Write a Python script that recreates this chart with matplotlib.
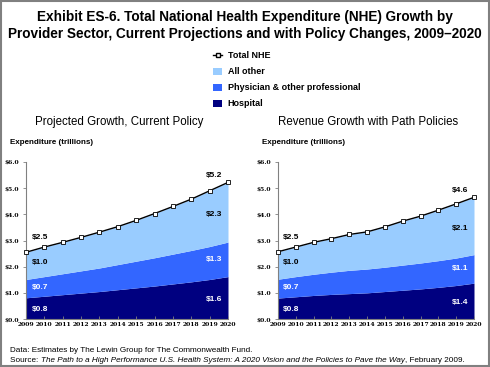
import matplotlib
matplotlib.use("Agg")
import matplotlib.pyplot as plt
from matplotlib.patches import Patch, Rectangle
from matplotlib.lines import Line2D
import numpy as np

plt.rcParams["font.family"] = ["Liberation Sans", "DejaVu Sans"]

years = list(range(2009, 2021))

# current policy
cur_total = [2.55, 2.75, 2.93, 3.12, 3.32, 3.53, 3.77, 4.03, 4.30, 4.58, 4.90, 5.22]
cur_hospital = [0.81, 0.87, 0.93, 0.99, 1.05, 1.12, 1.19, 1.26, 1.34, 1.42, 1.51, 1.62]
cur_physician = [0.70, 0.75, 0.80, 0.85, 0.90, 0.96, 1.02, 1.08, 1.14, 1.20, 1.26, 1.32]

# path policies
path_total = [2.57, 2.75, 2.93, 3.07, 3.23, 3.33, 3.52, 3.74, 3.93, 4.16, 4.40, 4.65]
path_hospital = [0.80, 0.85, 0.90, 0.94, 0.97, 1.00, 1.05, 1.10, 1.15, 1.21, 1.28, 1.37]
path_physician = [0.72, 0.77, 0.81, 0.85, 0.89, 0.91, 0.93, 0.96, 0.99, 1.02, 1.05, 1.09]

cur_labels = {"start": ["$2.5", "$1.0", "$0.7", "$0.8"], "end": ["$5.2", "$2.3", "$1.3", "$1.6"]}
path_labels = {"start": ["$2.5", "$1.0", "$0.7", "$0.8"], "end": ["$4.6", "$2.1", "$1.1", "$1.4"]}

C_HOSP = "#000080"
C_PHYS = "#3366FF"
C_OTHER = "#99CCFF"

fig = plt.figure(figsize=(4.9, 3.67), dpi=100)
W, H = 490, 367


def fx(px):
    return px / W


def fy(py):
    return 1 - py / H


fig.add_artist(Rectangle((0.002, 0.003), 0.996, 0.994, transform=fig.transFigure,
                         fill=False, edgecolor="#808080", linewidth=1.5))

fig.text(0.5, fy(17), "Exhibit ES-6. Total National Health Expenditure (NHE) Growth by",
         ha="center", va="center", fontsize=9.8, fontweight="bold")
fig.text(0.5, fy(34), "Provider Sector, Current Projections and with Policy Changes, 2009\u20132020",
         ha="center", va="center", fontsize=9.8, fontweight="bold")

handles = [
    Line2D([], [], color="black", lw=1, marker="s", markersize=3.5,
           markerfacecolor="white", markeredgecolor="black"),
    Patch(facecolor=C_OTHER),
    Patch(facecolor=C_PHYS),
    Patch(facecolor=C_HOSP),
]
names = ["Total NHE", "All other", "Physician & other professional", "Hospital"]
fig.legend(handles, names, loc="upper left", bbox_to_anchor=(fx(207), fy(45)),
           frameon=False, prop={"size": 6.5, "weight": "bold"}, handlelength=1.0,
           handleheight=0.9, handletextpad=0.6, labelspacing=0.78, borderpad=0.2)


def draw_panel(left_px, right_px, title, total, hospital, physician, labels):
    ax = fig.add_axes([fx(left_px), fy(319), fx(right_px - left_px), (319 - 162) / H])
    hosp = np.array(hospital)
    phys = np.array(physician)
    tot = np.array(total)
    ax.fill_between(years, 0, hosp, color=C_HOSP, lw=0)
    ax.fill_between(years, hosp, hosp + phys, color=C_PHYS, lw=0)
    ax.fill_between(years, hosp + phys, tot, color=C_OTHER, lw=0)
    ax.plot(years, tot, color="black", lw=1, marker="s", markersize=3.3,
            markerfacecolor="white", markeredgecolor="black", markeredgewidth=0.6,
            clip_on=False, zorder=5)
    ax.set_xlim(2009, 2020)
    ax.set_ylim(0, 6)
    ax.set_xticks(years)
    ax.set_xticklabels([str(y) for y in years], fontsize=4.3, fontweight="bold",
                       family="DejaVu Serif")
    ax.set_yticks(np.arange(0, 6.01, 1.0))
    ax.set_yticklabels(["$%.1f" % v for v in np.arange(0, 6.01, 1.0)], fontsize=4.3,
                       fontweight="bold", family="DejaVu Serif")
    for s in ["top", "right"]:
        ax.spines[s].set_visible(False)
    for s in ["left", "bottom"]:
        ax.spines[s].set_color("#808080")
        ax.spines[s].set_linewidth(0.8)
    ax.tick_params(axis="y", length=2, width=0.6, color="#808080", pad=3)
    ax.tick_params(axis="x", length=2, width=0.6, color="#808080", pad=2, direction="in")

    # labels on the left side
    s = labels["start"]
    x0 = years[0] + 0.3
    ax.text(x0, tot[0] + 0.55, s[0], fontsize=6, fontweight="bold", va="center")
    ax.text(x0, hosp[0] + phys[0] + 0.65, s[1], fontsize=6, fontweight="bold", va="center")
    ax.text(x0, hosp[0] + phys[0] / 2 + 0.05, s[2], fontsize=6, fontweight="bold",
            va="center", color="white")
    ax.text(x0, hosp[0] / 2 - 0.05, s[3], fontsize=6, fontweight="bold", va="center",
            color="white")
    # labels on the right side
    e = labels["end"]
    x1 = years[-1] - 0.3
    ax.text(x1, tot[-1] + 0.25, e[0], fontsize=6, fontweight="bold", va="center", ha="right")
    ax.text(x1, hosp[-1] + phys[-1] + (tot[-1] - hosp[-1] - phys[-1]) / 2 - 0.1, e[1],
            fontsize=6, fontweight="bold", va="center", ha="right")
    ax.text(x1, hosp[-1] + phys[-1] / 2, e[2], fontsize=6, fontweight="bold",
            va="center", ha="right", color="white")
    ax.text(x1, hosp[-1] / 2 - 0.05, e[3], fontsize=6, fontweight="bold", va="center",
            ha="right", color="white")

    cx = (left_px + right_px) / 2 - 8
    fig.text(fx(cx), fy(122), title, ha="center", va="center", fontsize=8.3)
    fig.text(fx(left_px - 16), fy(143), "Expenditure (trillions)", ha="left", va="center",
             fontsize=5.8, fontweight="bold")
    return ax


draw_panel(26, 228, "Projected Growth, Current Policy",
           cur_total, cur_hospital, cur_physician, cur_labels)
draw_panel(278, 474, "Revenue Growth with Path Policies",
           path_total, path_hospital, path_physician, path_labels)

# footer
fig.text(fx(10), fy(350), "Data: Estimates by The Lewin Group for The Commonwealth Fund.",
         fontsize=5.9, va="center")
renderer = fig.canvas.get_renderer()
parts = [("Source: ", "normal"),
         ("The Path to a High Performance U.S. Health System: A 2020 Vision and the Policies to Pave the Way", "italic"),
         (", February 2009.", "normal")]
xpos = 10
for txt, style in parts:
    t = fig.text(fx(xpos), fy(361), txt, fontsize=5.9, style=style, va="center")
    bb = t.get_window_extent(renderer=renderer)
    xpos += bb.width

fig.savefig("out.png", dpi=100)
